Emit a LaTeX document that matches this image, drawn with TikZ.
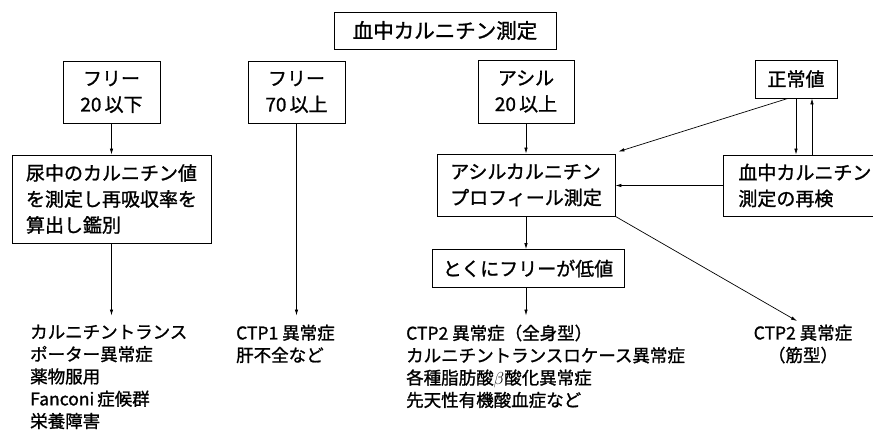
\documentclass[tikz,border=0pt]{standalone}
\usepackage{fontspec}
\setmainfont{Noto Sans CJK JP}[FakeBold=1.2]
\usetikzlibrary{arrows.meta}
\begin{document}
\begin{tikzpicture}[x=1pt,y=-1pt,
  box/.style={draw, line width=0.8pt, inner sep=0pt, font=\fontsize{19}{26}\selectfont, align=center},
  lst/.style={inner sep=0pt, font=\fontsize{17.5}{22.3}\selectfont, align=left, anchor=north west},
  arr/.style={-{Latex[length=6pt,width=3.5pt]}, line width=0.7pt}]
\useasboundingbox (0,0) rectangle (873,441);
\clip (0,0) rectangle (873,441);
% boxes
\node[box, minimum width=222pt, minimum height=37pt, font=\fontsize{20.5}{26}\selectfont] (top) at (445,30.5) {血中カルニチン測定};
\node[box, minimum width=97pt, minimum height=62pt] (f20) at (111.5,92) {フリー\\20\,以下};
\node[box, minimum width=97pt, minimum height=62pt] (f70) at (296.5,92) {フリー\\70\,以上};
\node[box, minimum width=96pt, minimum height=63pt] (a20) at (526,91.5) {アシル\\20\,以上};
\node[box, minimum width=82pt, minimum height=38pt] (seijo) at (796,79) {正常値};
\node[box, minimum width=199pt, minimum height=88pt, align=left] (nyo) at (111.5,199) {尿中のカルニチン値\\を測定し再吸収率を\\算出し鑑別};
\node[box, minimum width=178pt, minimum height=62pt, align=left] (acyl) at (526,185) {アシルカルニチン\\プロフィール測定};
\node[box, anchor=west, minimum width=180pt, minimum height=61pt, align=left, text width=150pt, inner xsep=14pt] (saiken) at (723,185.5) {血中カルニチン\\測定の再検};
\node[box, minimum width=192pt, minimum height=38pt] (toku) at (528,268.5) {とくにフリーが低値};
% lists
\node[lst] (L1) at (30,324.5) {カルニチントランス\\ポーター異常症\\薬物服用\\Fanconi\,症候群\\栄養障害};
\node[lst] (L2) at (236,324.5) {CTP1 異常症\\肝不全など};
\node[lst] (L3) at (406,324.5) {CTP2 異常症（全身型）\\カルニチントランスロケース異常症\\各種脂肪酸$\beta$酸化異常症\\先天性有機酸血症など};
\node[lst, anchor=north, align=center] (L4) at (803,324.5) {CTP2 異常症\\（筋型）};
% connectors
\draw[arr] (f20) -- (nyo);
\draw[arr, shorten >=9pt] (nyo.south) -- (nyo.south |- L1.north);
\draw[arr, shorten >=9pt] (f70.south) -- (f70.south |- L2.north);
\draw[arr] (a20.south) -- (a20.south |- acyl.north);
\draw[arr] (a20.south |- acyl.south) -- (a20.south |- toku.north);
\draw[arr, shorten >=9pt] (a20.south |- toku.south) -- (a20.south |- L3.north);
\draw[arr] ([xshift=-8pt]seijo.south) -- ([xshift=3pt,yshift=2pt]acyl.north east);
\draw[arr] (seijo.south) -- (seijo.south |- saiken.north);
\draw[arr] ([xshift=16pt]seijo.south |- saiken.north) -- ([xshift=16pt]seijo.south);
\draw[arr] (saiken.west) -- (saiken.west -| acyl.east);
\draw[arr, shorten >=7pt] (acyl.south east) -- (L4.north);
\end{tikzpicture}
\end{document}
